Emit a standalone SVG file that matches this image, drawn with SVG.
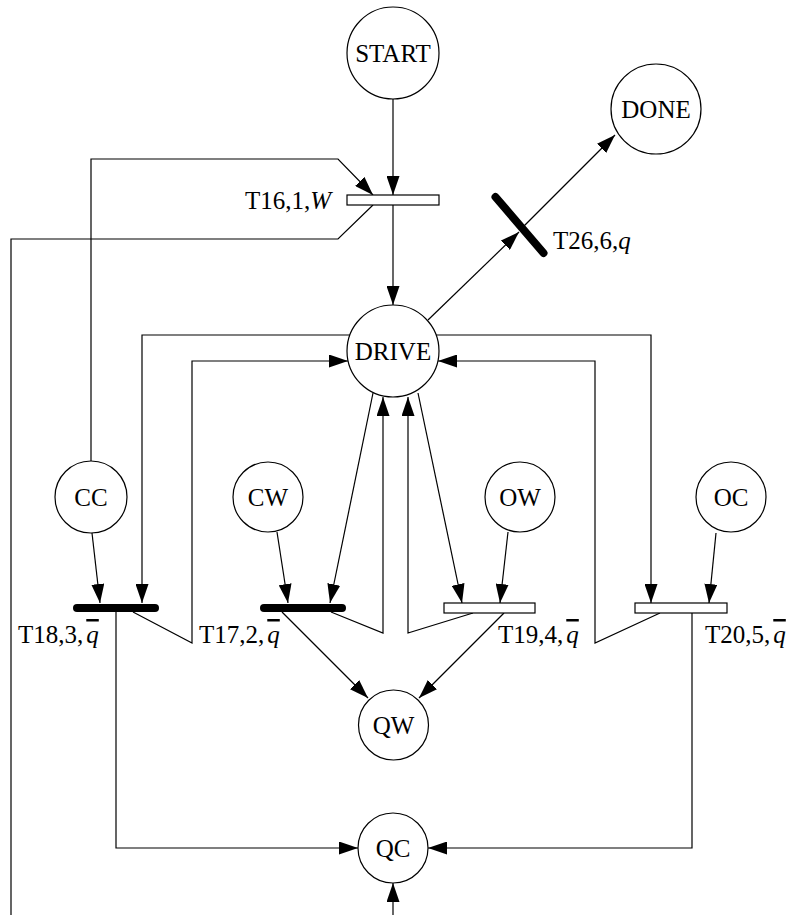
<svg xmlns="http://www.w3.org/2000/svg" width="787" height="915" viewBox="0 0 787 915">
<style>
.p{fill:#fff;stroke:#000;stroke-width:1.2}
.t{font-family:"Liberation Serif","Times New Roman",serif;font-size:25px;fill:#000}
.c{text-anchor:middle}
.e{fill:none;stroke:#000;stroke-width:1.2}
.a{marker-end:url(#ah)}
.bar{fill:#fff;stroke:#000;stroke-width:1.2}
.tb{stroke:#000;stroke-width:8;stroke-linecap:round}
.i{font-style:italic}
.ov{text-decoration:overline}
</style>
<defs>
<marker id="ah" markerWidth="19" markerHeight="13" refX="19" refY="6.5" orient="auto" markerUnits="userSpaceOnUse">
<path d="M0,0L19,6.5L0,13z" fill="#000"/>
</marker>
</defs>
<rect width="787" height="915" fill="#fff"/>
<g id="connectors">
<path class="e a" d="M393,99V195"/>
<path class="e a" d="M393,205V305"/>
<path class="e a" d="M91,461V159H338L373,195"/>
<path class="e" d="M373,205L338,239H11V915"/>
<path class="e a" d="M393,915V883"/>
<path class="e a" d="M428,320L519,232"/>
<path class="e a" d="M524,226L615,135"/>
<path class="e a" d="M350,335H142V603"/>
<path class="e a" d="M436,335H651V603"/>
<path class="e a" d="M133,612L192,643V361H348"/>
<path class="e a" d="M660,613L595,643V361H438"/>
<path class="e a" d="M92,533L100,603"/>
<path class="e a" d="M277,532L288,603"/>
<path class="e a" d="M373,393L330,603"/>
<path class="e a" d="M418,393L462,603"/>
<path class="e a" d="M508,532L500,603"/>
<path class="e a" d="M716,533L709,603"/>
<path class="e a" d="M331,612L383,633V397"/>
<path class="e a" d="M473,613L408,633V397"/>
<path class="e a" d="M282,612L368,698"/>
<path class="e a" d="M504,613L419,698"/>
<path class="e a" d="M116,612V848H358"/>
<path class="e a" d="M692,613V848H428"/>
</g>
<g id="START"><circle class="p" cx="393" cy="53" r="46"/><text class="t c" x="393" y="62">START</text></g>
<g id="DONE"><circle class="p" cx="656" cy="109" r="45"/><text class="t c" x="656" y="118">DONE</text></g>
<g id="DRIVE"><circle class="p" cx="393" cy="351" r="46"/><text class="t c" x="393" y="360">DRIVE</text></g>
<g id="CC"><circle class="p" cx="91" cy="497" r="36"/><text class="t c" x="91" y="506">CC</text></g>
<g id="CW"><circle class="p" cx="268" cy="497" r="35"/><text class="t c" x="268" y="506">CW</text></g>
<g id="OW"><circle class="p" cx="520" cy="497" r="35"/><text class="t c" x="520" y="506">OW</text></g>
<g id="OC"><circle class="p" cx="731" cy="497" r="35"/><text class="t c" x="731" y="506">OC</text></g>
<g id="QW"><circle class="p" cx="393.5" cy="725" r="35"/><text class="t c" x="393.5" y="734">QW</text></g>
<g id="QC"><circle class="p" cx="393" cy="848" r="35"/><text class="t c" x="393" y="857">QC</text></g>
<g id="T16"><rect class="bar" x="347" y="195" width="92" height="10"/><text class="t" x="331" y="209" text-anchor="end">T16,1,<tspan class="i">W</tspan></text></g>
<g id="T26"><line class="tb" x1="495.5" y1="197" x2="543.5" y2="253"/><text class="t" x="553" y="249">T26,6,<tspan class="i">q</tspan></text></g>
<g id="T18"><line class="tb" x1="77" y1="608" x2="155" y2="608"/><text class="t" x="18" y="643">T18,3,<tspan class="i ov" dx="3">q</tspan></text></g>
<g id="T17"><line class="tb" x1="264" y1="608" x2="342" y2="608"/><text class="t" x="199" y="643">T17,2,<tspan class="i ov" dx="3">q</tspan></text></g>
<g id="T19"><rect class="bar" x="444" y="603" width="91" height="10"/><text class="t" x="498" y="643">T19,4,<tspan class="i ov" dx="3">q</tspan></text></g>
<g id="T20"><rect class="bar" x="635" y="603" width="92" height="10"/><text class="t" x="705" y="643">T20,5,<tspan class="i ov" dx="3">q</tspan></text></g>
</svg>
